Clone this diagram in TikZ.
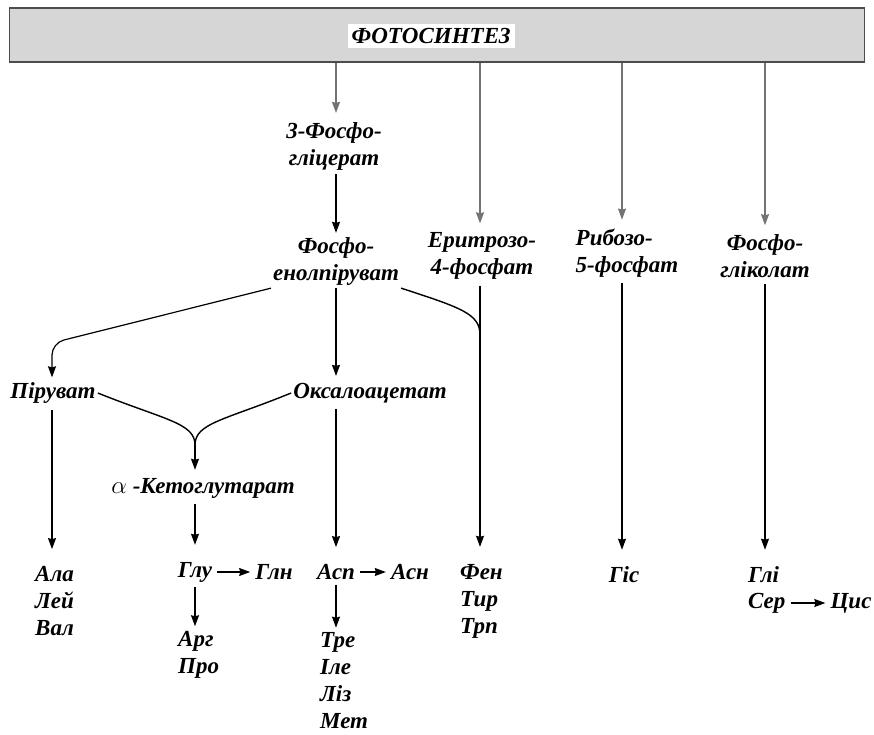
\documentclass[tikz,border=0pt]{standalone}
\usepackage{fontspec}
\setmainfont{Liberation Serif}
\usetikzlibrary{arrows.meta}

\begin{document}
\begin{tikzpicture}[
    x=1pt, y=-1pt,
    every node/.style={font=\bfseries\itshape\fontsize{23}{27}\selectfont, inner sep=2pt},
    list/.style={align=left, anchor=west},
    arr/.style={-{Stealth[length=11pt, width=8pt, inset=1pt]}, line width=1.2pt},
    garr/.style={arr, black!55, shorten >=7pt},
    downarr/.style={arr, shorten <=4pt, shorten >=15pt},
    sarr/.style={arr, shorten <=3pt, shorten >=3pt},
    joinline/.style={line width=1.4pt}
]
\useasboundingbox (0,0) rectangle (874,735);

% bar on top
\node[draw=black!70, fill=black!16, line width=1.5pt,
      minimum width=855pt, minimum height=54pt] (photo) at (437,35) {};
\node[fill=white, inner sep=4pt] (title) at (431,36) {ФОТОСИНТЕЗ};

% intermediates
\node[align=center] (pga)   at (334,146) {3-Фосфо-\\гліцерат};
\node[align=center] (pep)   at (336,262) {Фосфо-\\енолпіруват};
\node[align=center] (e4p)   at (482,256) {Еритрозо-\\4-фосфат};
\node[align=left]   (r5p)   at (627,253) {Рибозо-\\5-фосфат};
\node[align=center] (pglyc) at (765,256) {Фосфо-\\гліколат};
\node (pyr) at (53,393)  {Піруват};
\node (oaa) at (370,393) {Оксалоацетат};
\node (akg) at (203,488) {{\upshape\mdseries$\alpha$} -Кетоглутарат};
\coordinate (pyrbend) at (52,343);
\coordinate (merge) at (195,445);

% amino acids
\node[list] (ala) at (33,601)  {Ала\\Лей\\Вал};
\node (glu) at (195,572) {Глу};
\node (gln) at (274,572) {Глн};
\node (asp) at (336,572) {Асп};
\node (asn) at (410,572) {Асн};
\node[list] (arg) at (176,655) {Арг\\Про};
\node[list] (thr) at (318,681) {Тре\\Іле\\Ліз\\Мет};
\node[list] (phe) at (458,601) {Фен\\Тир\\Трп};
\node (his) at (624,575) {Гіс};
\node[list] (gly) at (746,575) {Глі};
\node[list] (ser) at (746,603) {Сер};
\node (cys) at (851,603) {Цис};

% from the bar
\draw[garr] (photo.south -| pep.north) -- (pep.north |- pga.north);
\draw[garr] (photo.south -| 480,0) -- (480,0 |- e4p.north);
\draw[garr] (photo.south -| 622,0) -- (622,0 |- r5p.north);
\draw[garr] (photo.south -| pglyc.north) -- (pglyc.north);

% main routes
\draw[arr, shorten <=2pt, shorten >=3pt] (pep.north |- pga.south) -- (pep.north);
\draw[joinline, arr, rounded corners=12pt, shorten >=3pt] (pep.south west) -- (pyrbend) -- (pyrbend |- pyr.north);
\draw[arr, shorten >=5pt] (pep.south) -- (pep.south |- oaa.north);
\draw[joinline] (pep.south east) .. controls (462,308) and (480,314) .. (480,335);
\draw[joinline] (pyr.east) .. controls (165,420) and (195,423) .. (merge);
\draw[joinline] (oaa.west) .. controls (225,420) and (195,423) .. (merge);
\draw[arr, shorten >=6pt] (merge) -- (merge |- akg.north);

% down to the amino acids
\draw[downarr] (pyr.south -| pyrbend) -- (pyrbend |- ala.north);
\draw[downarr] (merge |- akg.south) -- (merge |- glu.north);
\draw[downarr] (asp.north |- oaa.south) -- (asp.north);
\draw[downarr] (480,0 |- e4p.south) -- (480,0 |- phe.north);
\draw[downarr] (622,0 |- r5p.south) -- (622,0 |- his.north);
\draw[downarr] (pglyc.south) -- (pglyc.south |- gly.north);

% side steps
\draw[sarr] (glu) -- (gln);
\draw[sarr] (asp) -- (asn);
\draw[sarr] (ser) -- (cys);
\draw[sarr] (glu.south) -- (glu.south |- arg.north);
\draw[sarr] (asp.south) -- (asp.south |- thr.north);
\end{tikzpicture}
\end{document}
